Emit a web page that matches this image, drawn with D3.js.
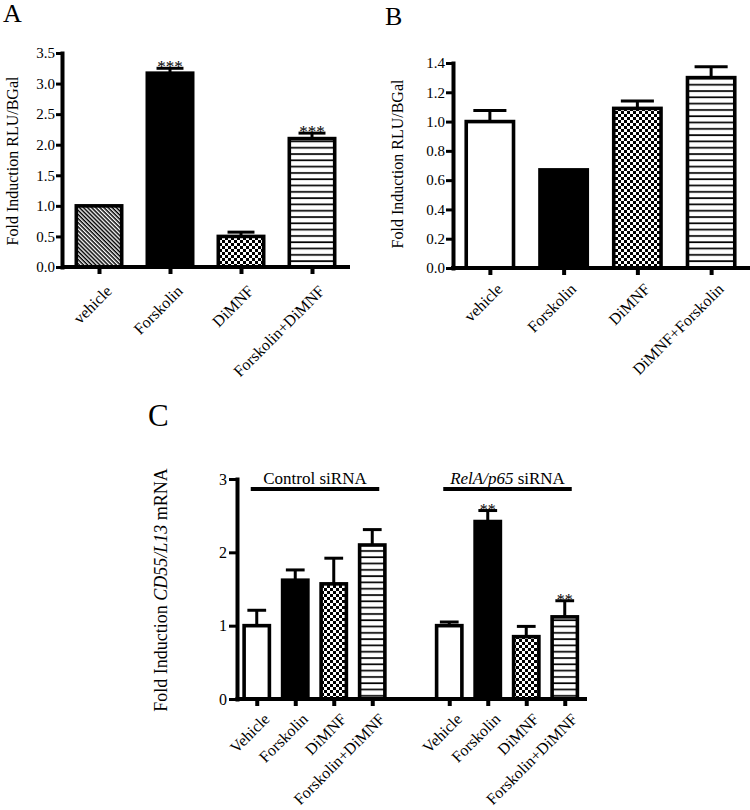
<!DOCTYPE html>
<html><head><meta charset="utf-8">
<script src="https://cdn.jsdelivr.net/npm/d3@7"></script>
<style>body{margin:0;background:#fff}svg{display:block}</style>
</head><body>
<svg id="chart" width="750" height="810"></svg>
<script>
// ---------- DATA ----------
const aCategories = ["vehicle", "Forskolin", "DiMNF", "Forskolin+DiMNF"];
const aValues = [1.0, 3.17, 0.5, 2.1];
const aErrors = [0.0, 0.08, 0.07, 0.09];
const aStars = ["", "***", "", "***"];
const aFills = ["diag", "black", "checker", "hstripe"];
const aTicks = [0, 0.5, 1.0, 1.5, 2.0, 2.5, 3.0, 3.5];

const bCategories = ["vehicle", "Forskolin", "DiMNF", "DiMNF+Forskolin"];
const bValues = [1.0, 0.67, 1.09, 1.30];
const bErrors = [0.075, 0.0, 0.05, 0.075];
const bStars = ["", "", "", ""];
const bFills = ["white", "black", "checker", "hstripe"];
const bTicks = [0, 0.2, 0.4, 0.6, 0.8, 1.0, 1.2, 1.4];

const cCategories = ["Vehicle", "Forskolin", "DiMNF", "Forskolin+DiMNF"];
const cGroups = ["Control siRNA", "RelA/p65 siRNA"];
const cControlValues = [1.0, 1.62, 1.57, 2.10];
const cControlErrors = [0.21, 0.14, 0.35, 0.21];
const cControlStars = ["", "", "", ""];
const cRelaValues = [1.0, 2.42, 0.85, 1.12];
const cRelaErrors = [0.05, 0.15, 0.14, 0.22];
const cRelaStars = ["", "**", "", "**"];
const cFills = ["white", "black", "checker", "hstripe"];
const cTicks = [0, 1, 2, 3];

// ---------- SETUP ----------
const FONT = "'Liberation Serif', 'Times New Roman', serif";
const svg = d3.select("#chart");
svg.append("rect").attr("width", 750).attr("height", 810).attr("fill", "#fff");
const defs = svg.append("defs");

// diagonal stripes "\\"
const pd = defs.append("pattern").attr("id", "diag").attr("patternUnits", "userSpaceOnUse")
  .attr("width", 8).attr("height", 2.9).attr("patternTransform", "rotate(45)");
pd.append("rect").attr("width", 8).attr("height", 2.9).attr("fill", "#fff");
pd.append("rect").attr("y", 0).attr("width", 8).attr("height", 1.5).attr("fill", "#000");

// checkerboard
const pc = defs.append("pattern").attr("id", "checker").attr("patternUnits", "userSpaceOnUse")
  .attr("width", 6).attr("height", 6);
pc.append("rect").attr("width", 6).attr("height", 6).attr("fill", "#fff");
pc.append("rect").attr("width", 3).attr("height", 3).attr("fill", "#000");
pc.append("rect").attr("x", 3).attr("y", 3).attr("width", 3).attr("height", 3).attr("fill", "#000");

// horizontal stripes
const ph = defs.append("pattern").attr("id", "hstripe").attr("patternUnits", "userSpaceOnUse")
  .attr("width", 6).attr("height", 6.3);
ph.append("rect").attr("width", 6).attr("height", 6.3).attr("fill", "#fff");
ph.append("rect").attr("y", 2).attr("width", 6).attr("height", 1.7).attr("fill", "#000");

function fillOf(f) {
  if (f === "white") return "#fff";
  if (f === "black") return "#000";
  return "url(#" + f + ")";
}

function drawAxes(g, x, y, slots, labels, ticks, tickFmt, o) {
  const [y0] = y.range();
  const xAxis = d3.axisBottom(x).tickValues(slots).tickFormat((d, i) => labels[i])
    .tickSize(o.xTick).tickSizeOuter(0);
  const gx = g.append("g").attr("transform", `translate(0,${y0})`).call(xAxis)
    .attr("font-family", null).attr("font-size", null);
  gx.select(".domain").attr("stroke-width", 4).attr("stroke-linecap", "square")
    .attr("d", `M${x.range()[0]},0H${o.xEnd}`);
  gx.selectAll(".tick line").attr("stroke-width", 4);
  gx.selectAll(".tick text")
    .attr("x", 0).attr("y", 0).attr("dy", "0.72em")
    .attr("text-anchor", "end")
    .attr("transform", `translate(${o.lx},${o.ly}) rotate(-45)`)
    .attr("font-family", FONT).attr("font-size", o.xFont)
    .style("font-family", FONT).style("font-size", o.xFont + "px").attr("fill", "#000");

  const yAxis = d3.axisLeft(y).tickValues(ticks).tickFormat(tickFmt)
    .tickSize(o.yTick).tickSizeOuter(0).tickPadding(o.yPad);
  const gy = g.append("g").attr("transform", `translate(${o.yAxisX},0)`).call(yAxis)
    .attr("font-family", null).attr("font-size", null);
  gy.select(".domain").attr("stroke-width", 4).attr("stroke-linecap", "square");
  gy.selectAll(".tick line").attr("stroke-width", 3);
  gy.selectAll(".tick text").attr("font-family", FONT).attr("font-size", o.yFont)
    .style("font-family", FONT).style("font-size", o.yFont + "px").attr("fill", "#000");
}

function drawBars(g, x, y, rows, bw, o) {
  const sw = 3.6;
  const bars = g.selectAll(null).data(rows).join("g");
  bars.append("rect")
    .attr("x", d => x(d.slot) - bw / 2 + sw / 2)
    .attr("y", d => y(d.val))
    .attr("width", bw - sw)
    .attr("height", d => y(0) - y(d.val))
    .attr("fill", d => fillOf(d.fill))
    .attr("stroke", "#000").attr("stroke-width", sw);
  const eb = bars.filter(d => d.err > 0);
  eb.append("line")
    .attr("x1", d => x(d.slot)).attr("x2", d => x(d.slot))
    .attr("y1", d => y(d.val)).attr("y2", d => y(d.val + d.err))
    .attr("stroke", "#000").attr("stroke-width", 3);
  eb.append("line")
    .attr("x1", d => x(d.slot) - bw * o.cap / 2).attr("x2", d => x(d.slot) + bw * o.cap / 2)
    .attr("y1", d => y(d.val + d.err)).attr("y2", d => y(d.val + d.err))
    .attr("stroke", "#000").attr("stroke-width", 3);
  bars.filter(d => d.star).append("text")
    .attr("x", d => x(d.slot)).attr("y", d => y(d.val + d.err) + o.starDy)
    .attr("text-anchor", "middle")
    .style("font-family", FONT).style("font-size", o.starFont + "px")
    .text(d => d.star);
}

function rowsOf(slots, vals, errs, fills, stars) {
  return slots.map((s, i) => ({ slot: s, val: vals[i], err: errs[i], fill: fills[i], star: stars[i] }));
}

// ---------- PANEL A ----------
{
  const g = svg.append("g");
  const slots = d3.range(aCategories.length);
  const x = d3.scalePoint().domain(slots).range([63.5, 347.5]).padding(0.5);
  const y = d3.scaleLinear().domain([0, 3.5]).range([267, 53]);
  drawBars(g, x, y, rowsOf(slots, aValues, aErrors, aFills, aStars), x.step() * 0.69,
    { cap: 0.55, starDy: 4, starFont: 17 });
  drawAxes(g, x, y, slots, aCategories, aTicks, d3.format(".1f"),
    { xTick: 7, xEnd: 348, lx: 5, ly: 17, xFont: 16, yTick: 6, yPad: 1, yAxisX: 62, yFont: 15 });
  g.append("text").attr("transform", "translate(18,161) rotate(-90)").attr("text-anchor", "middle")
    .style("font-family", FONT).style("font-size", "16px").text("Fold Induction RLU/BGal");
  g.append("text").attr("x", 3).attr("y", 22).style("font-family", FONT).style("font-size", "26px").text("A");
}

// ---------- PANEL B ----------
{
  const g = svg.append("g");
  const slots = d3.range(bCategories.length);
  const x = d3.scalePoint().domain(slots).range([453, 748]).padding(0.5);
  const y = d3.scaleLinear().domain([0, 1.4]).range([268, 63]);
  drawBars(g, x, y, rowsOf(slots, bValues, bErrors, bFills, bStars), x.step() * 0.69,
    { cap: 0.65, starDy: 4, starFont: 17 });
  drawAxes(g, x, y, slots, bCategories, bTicks, d3.format(".1f"),
    { xTick: 7, xEnd: 750, lx: 5, ly: 14, xFont: 16, yTick: 7, yPad: 1, yAxisX: 453, yFont: 15 });
  g.append("text").attr("transform", "translate(403,164) rotate(-90)").attr("text-anchor", "middle")
    .style("font-family", FONT).style("font-size", "16px").text("Fold Induction RLU/BGal");
  g.append("text").attr("x", 385).attr("y", 25).style("font-family", FONT).style("font-size", "26px").text("B");
}

// ---------- PANEL C ----------
{
  const g = svg.append("g");
  const n = cCategories.length;
  const slotsCtrl = d3.range(n);
  const slotsRela = d3.range(n + 1, 2 * n + 1);
  const x = d3.scalePoint().domain(d3.range(2 * n + 1)).range([237.5, 584]).padding(0.5);
  const y = d3.scaleLinear().domain([0, 3]).range([699, 479]);
  const bw = x.step() * 0.75;
  const rows = rowsOf(slotsCtrl, cControlValues, cControlErrors, cFills, cControlStars)
    .concat(rowsOf(slotsRela, cRelaValues, cRelaErrors, cFills, cRelaStars));
  drawBars(g, x, y, rows, bw, { cap: 0.65, starDy: 4, starFont: 16 });
  drawAxes(g, x, y, slotsCtrl.concat(slotsRela), cCategories.concat(cCategories), cTicks, d3.format("d"),
    { xTick: 7, xEnd: 585, lx: 5, ly: 13, xFont: 16, yTick: 8, yPad: 2, yAxisX: 237, yFont: 16 });

  // group brackets
  [slotsCtrl, slotsRela].forEach((sl, gi) => {
    const x1 = x(sl[0]) - 6, x2 = x(sl[sl.length - 1]) + 7;
    g.append("line").attr("x1", x1).attr("x2", x2).attr("y1", 489).attr("y2", 489)
      .attr("stroke", "#000").attr("stroke-width", 4);
    const t = g.append("text").attr("x", (x1 + x2) / 2).attr("y", 484).attr("text-anchor", "middle")
      .style("font-family", FONT).style("font-size", "17px");
    const label = cGroups[gi];
    const sp = label.indexOf(" siRNA");
    if (gi === 1) {
      t.append("tspan").style("font-style", "italic").text(label.slice(0, sp));
      t.append("tspan").text(label.slice(sp));
    } else {
      t.text(label);
    }
  });

  const yl = g.append("text").attr("transform", "translate(167,590) rotate(-90)").attr("text-anchor", "middle")
    .style("font-family", FONT).style("font-size", "18px");
  yl.append("tspan").text("Fold Induction ");
  yl.append("tspan").style("font-style", "italic").text("CD55/L13");
  yl.append("tspan").text(" mRNA");
  g.append("text").attr("x", 148).attr("y", 426).style("font-family", FONT).style("font-size", "31px").text("C");
}
</script>
</body></html>
